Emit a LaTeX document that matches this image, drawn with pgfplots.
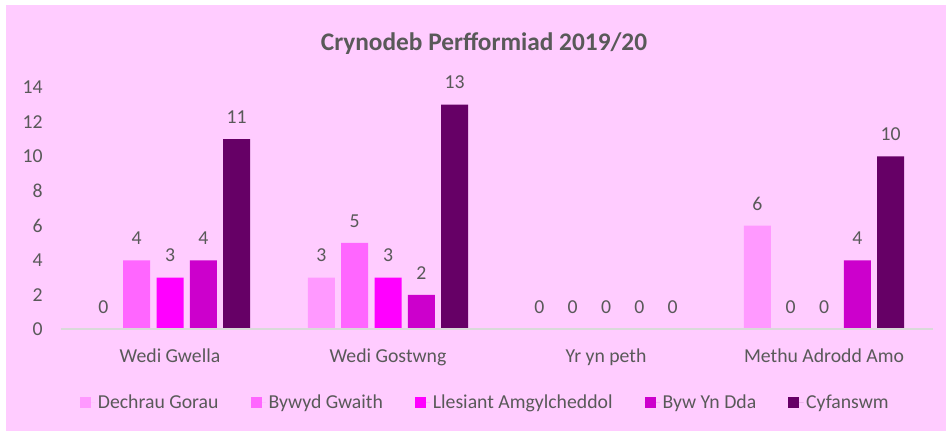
\documentclass[border=0pt]{standalone}
\usepackage{pgfplots}
\pgfplotsset{compat=1.18}
\usepackage{fontspec}
\setmainfont{Carlito}
\definecolor{bg}{HTML}{FFCCFF}
\definecolor{txt}{HTML}{595959}
\definecolor{axl}{HTML}{D9D9D9}
\definecolor{ca}{HTML}{FF99FF}
\definecolor{cb}{HTML}{FF66FF}
\definecolor{cc}{HTML}{FF00FF}
\definecolor{cd}{HTML}{CC00CC}
\definecolor{ce}{HTML}{660066}
\pgfplotsset{/pgf/number format/assume math mode=true}
\begin{document}
\begin{tikzpicture}[x=0.75pt,y=0.75pt]
\fill[white] (0,0) rectangle (946,431);
\fill[bg] (6,0) rectangle (946,426);
\node[font=\fontsize{19}{22}\selectfont\bfseries, text=txt] at (484,387) {Crynodeb Perfformiad 2019/20};
\begin{axis}[
  at={(45.75pt,76.125pt)}, anchor=south west,
  width=654pt, height=181.65pt, scale only axis,
  ybar=4.7pt, bar width=20.25pt,
  xmin=-0.5, xmax=3.5, ymin=0, ymax=14,
  xtick=data, xticklabels={Wedi Gwella,Wedi Gostwng,Yr yn peth,Methu Adrodd Amo},
  ytick={0,2,...,14},
  major tick length=0pt,
  axis on top,
  axis x line*=bottom, axis y line*=left,
  x axis line style={draw=axl, line width=1.5pt, -},
  y axis line style={draw=none},
  tick label style={font=\fontsize{14.8}{17.8}\selectfont, text=txt},
  xticklabel style={anchor=base, yshift=-24.75pt, inner sep=0pt},
  yticklabel style={anchor=east, xshift=-13.5pt, inner sep=0pt},
  clip=false,
  nodes near coords={\pgfmathprintnumber{\pgfplotspointmeta}},
  every node near coord/.append style={font=\fontsize{14.8}{17.8}\selectfont, text=txt, anchor=center, yshift=16.5pt},
  legend columns=5,
  legend style={draw=none, fill=none, font=\fontsize{14.8}{17.8}\selectfont, text=txt,
    at={(0.487,-0.303)}, anchor=center,
    /tikz/every even column/.append style={column sep=22pt}},
]
\addplot[fill=ca, draw=none, legend image code/.code={\fill[ca] (0pt,-4.125pt) rectangle (8.25pt,4.125pt); \path (0pt,0pt) -- (11.5pt,0pt);}] coordinates {(0,0) (1,3) (2,0) (3,6)};
\addplot[fill=cb, draw=none, legend image code/.code={\fill[cb] (0pt,-4.125pt) rectangle (8.25pt,4.125pt); \path (0pt,0pt) -- (11.5pt,0pt);}] coordinates {(0,4) (1,5) (2,0) (3,0)};
\addplot[fill=cc, draw=none, legend image code/.code={\fill[cc] (0pt,-4.125pt) rectangle (8.25pt,4.125pt); \path (0pt,0pt) -- (11.5pt,0pt);}] coordinates {(0,3) (1,3) (2,0) (3,0)};
\addplot[fill=cd, draw=none, legend image code/.code={\fill[cd] (0pt,-4.125pt) rectangle (8.25pt,4.125pt); \path (0pt,0pt) -- (11.5pt,0pt);}] coordinates {(0,4) (1,2) (2,0) (3,4)};
\addplot[fill=ce, draw=none, legend image code/.code={\fill[ce] (0pt,-4.125pt) rectangle (8.25pt,4.125pt); \path (0pt,0pt) -- (11.5pt,0pt);}] coordinates {(0,11) (1,13) (2,0) (3,10)};
\legend{Dechrau Gorau,Bywyd Gwaith,Llesiant Amgylcheddol,Byw Yn Dda,Cyfanswm}
\end{axis}
\end{tikzpicture}
\end{document}
